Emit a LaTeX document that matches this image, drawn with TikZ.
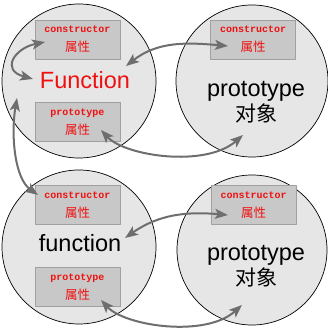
\documentclass[tikz,border=0pt]{standalone}
\usepackage{fontspec}
\setmainfont{Liberation Sans}
\newfontfamily\codefont{Liberation Mono}
\newfontfamily\cjkfont{Noto Sans CJK SC}
\usetikzlibrary{arrows.meta}

\definecolor{ballfill}{RGB}{230,230,230}
\definecolor{slotfill}{RGB}{200,200,200}
\definecolor{slotline}{RGB}{160,160,160}
\definecolor{linkgray}{RGB}{110,110,110}
\definecolor{keyred}{RGB}{240,16,16}

\begin{document}
\begin{tikzpicture}[x=1pt,y=1pt,line cap=round,line join=round,
  ball/.style={circle,draw=black,fill=ballfill,line width=.7pt,inner sep=0pt},
  slot/.style={draw=slotline,fill=slotfill,line width=.6pt,minimum width=85pt,
    minimum height=39pt,inner sep=0pt,align=center,text=keyred,
    font=\fontsize{10}{19}\selectfont},
  big/.style={align=center,font=\fontsize{23.5}{25}\selectfont},
  link/.style={draw=linkgray,line width=2pt,
    {Stealth[length=13pt,width=10pt,inset=3pt]}-{Stealth[length=13pt,width=10pt,inset=3pt]}}]
  \useasboundingbox (0,0) rectangle (328,328);
  % the four objects
  \node[ball,minimum size=154pt] (Fn)  at (79,247) {};
  \node[ball,minimum size=152pt] (FnP) at (252,247) {};
  \node[ball,minimum size=154pt] (fn)  at (79,81) {};
  \node[ball,minimum size=150pt] (fnP) at (252,78) {};
  % property slots
  \node[slot] (FnC)   at (77.5,288.5) {{\codefont\bfseries\fontsize{10}{10}\selectfont constructor}\\{\cjkfont\fontsize{12.5}{10}\selectfont 属性}};
  \node[slot] (FnPr)  at (77.5,206)   {{\codefont\bfseries\fontsize{10}{10}\selectfont prototype}\\{\cjkfont\fontsize{12.5}{10}\selectfont 属性}};
  \node[slot] (FnPC)  at (253,288.5)  {{\codefont\bfseries\fontsize{10}{10}\selectfont constructor}\\{\cjkfont\fontsize{12.5}{10}\selectfont 属性}};
  \node[slot] (fnC)   at (77.5,123)   {{\codefont\bfseries\fontsize{10}{10}\selectfont constructor}\\{\cjkfont\fontsize{12.5}{10}\selectfont 属性}};
  \node[slot] (fnPr)  at (77.5,41)    {{\codefont\bfseries\fontsize{10}{10}\selectfont prototype}\\{\cjkfont\fontsize{12.5}{10}\selectfont 属性}};
  \node[slot] (fnPC)  at (253.5,123)  {{\codefont\bfseries\fontsize{10}{10}\selectfont constructor}\\{\cjkfont\fontsize{12.5}{10}\selectfont 属性}};
  % names
  \node[big,text=keyred] (FnName)  at (85,247.5) {Function};
  \node[big]             (FnPName) at (256,225.5) {prototype\\{\cjkfont\fontsize{21}{25}\selectfont 对象}};
  \node[big]             (fnName)  at (80,84.5)  {function};
  \node[big]             (fnPName) at (256,61.5) {prototype\\{\cjkfont\fontsize{21}{25}\selectfont 对象}};
  % arrow ends
  \coordinate (selfA) at (45,286);
  \coordinate (selfB) at (33,249);
  \coordinate (FnIn)  at (126,262);
  \coordinate (FnPCIn) at (228,282);
  \coordinate (FnPrIn) at (101,198);
  \coordinate (FnPIn)  at (243,193);
  \coordinate (FnOut)  at (17,230);
  \coordinate (fnCIn)  at (38,133);
  \coordinate (fnIn)   at (125,90);
  \coordinate (fnPCIn) at (228,113);
  \coordinate (fnPrIn) at (101,28);
  \coordinate (fnPIn)  at (242,23);
  % links
  \draw[link] (selfA) .. controls (15,280) and (0,258) .. (selfB);
  \draw[link] (FnIn) to[out=38,in=175] (FnPCIn);
  \draw[link] (FnPrIn) .. controls (125,172) and (205,160) .. (FnPIn);
  \draw[link] (FnOut) .. controls (11,195) and (14,150) .. (fnCIn);
  \draw[link] (fnIn) to[out=35,in=175] (fnPCIn);
  \draw[link] (fnPrIn) .. controls (125,2) and (205,-10) .. (fnPIn);
\end{tikzpicture}
\end{document}
